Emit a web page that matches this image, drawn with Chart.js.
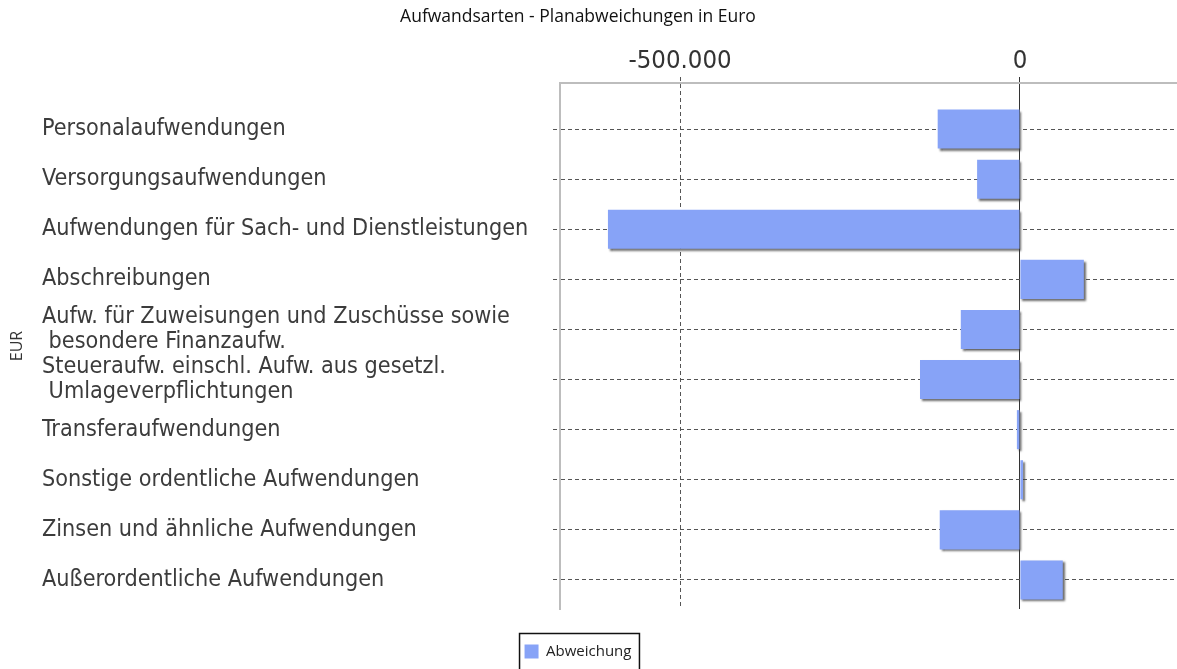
<!DOCTYPE html>
<html>
<head>
<meta charset="utf-8">
<script src="https://cdn.jsdelivr.net/npm/chart.js@4/dist/chart.umd.min.js"></script>
<style>
  html, body { margin: 0; padding: 0; background: #fff; }
  #wrap { width: 1177px; height: 669px; }
</style>
</head>
<body>
<div id="wrap"><canvas id="chart" width="1177" height="669"></canvas></div>
<script>
const categories = [
  ['Personalaufwendungen'],
  ['Versorgungsaufwendungen'],
  ['Aufwendungen für Sach- und Dienstleistungen'],
  ['Abschreibungen'],
  ['Aufw. für Zuweisungen und Zuschüsse sowie', ' besondere Finanzaufw.'],
  ['Steueraufw. einschl. Aufw. aus gesetzl.', ' Umlageverpflichtungen'],
  ['Transferaufwendungen'],
  ['Sonstige ordentliche Aufwendungen'],
  ['Zinsen und ähnliche Aufwendungen'],
  ['Außerordentliche Aufwendungen'],
];
const abweichung = [-121000, -63000, -606000, 94000, -87000, -147000, -4500, 4500, -118000, 63000];
const xTicks = [-500000, 0];
const xMin = -676500;
const xMax = 231000;

const labelFont = "'DejaVu Sans Condensed', 'DejaVu Sans', sans-serif";
const uiFont = "'Open Sans', sans-serif";
const fmt = (n) => new Intl.NumberFormat('de-DE').format(n);

// Schatten unter den Balken
const barShadow = {
  id: 'barShadow',
  beforeDatasetsDraw(chart) {
    const ctx = chart.ctx;
    ctx.save();
    ctx.shadowColor = 'rgba(60, 60, 60, 0.75)';
    ctx.shadowBlur = 2;
    ctx.shadowOffsetX = 2;
    ctx.shadowOffsetY = 2;
  },
  afterDatasetsDraw(chart) {
    chart.ctx.restore();
  },
};

// Rahmen um die Legende
const legendFrame = {
  id: 'legendFrame',
  afterDraw(chart) {
    const box = chart.legend && chart.legend.legendHitBoxes && chart.legend.legendHitBoxes[0];
    if (!box) return;
    const ctx = chart.ctx;
    const cy = box.top + box.height / 2;
    ctx.save();
    ctx.strokeStyle = '#111';
    ctx.lineWidth = 1.5;
    ctx.strokeRect(box.left - 5, cy - 18, box.width + 13, 40);
    ctx.restore();
  },
};

new Chart(document.getElementById('chart'), {
  type: 'bar',
  data: {
    datasets: [{
      label: 'Abweichung',
      data: abweichung.map((v, i) => ({ x: v, y: i })),
      backgroundColor: '#87a3f7',
      borderWidth: 0,
      barPercentage: 0.78,
      categoryPercentage: 1,
      xAxisID: 'x',
      yAxisID: 'y',
    }],
  },
  options: {
    indexAxis: 'y',
    responsive: false,
    animation: false,
    layout: { padding: { left: -21, right: 0, top: 0, bottom: 0 } },
    plugins: {
      title: {
        display: true,
        text: 'Aufwandsarten - Planabweichungen in Euro',
        color: '#111',
        font: { family: uiFont, size: 17.5, weight: 'normal' },
        padding: { top: 7, bottom: 7 },
      },
      legend: {
        position: 'bottom',
        labels: {
          color: '#222',
          font: { family: uiFont, size: 15 },
          boxWidth: 14,
          boxHeight: 14,
          padding: 35,
        },
      },
      tooltip: { enabled: false },
    },
    scales: {
      x: {
        type: 'linear',
        position: 'top',
        weight: 1,
        min: xMin,
        max: xMax,
        afterBuildTicks: (s) => { s.ticks = xTicks.map((v) => ({ value: v })); },
        afterFit: (s) => { s.height = 48; },
        ticks: {
          color: '#333',
          font: { family: labelFont, size: 25.5 },
          padding: 0,
          maxRotation: 0,
          callback: (v) => fmt(v),
        },
        grid: {
          color: (c) => (c.tick && c.tick.value === 0 ? 'rgba(0,0,0,0)' : '#555'),
          tickColor: (c) => (c.tick && c.tick.value === 0 ? 'rgba(0,0,0,0)' : '#555'),
          tickLength: 6,
          tickBorderDash: [4, 3],
        },
        border: { display: true, color: '#bdbdbd', width: 2, dash: [4, 3] },
      },
      x0: {
        type: 'linear',
        position: 'top',
        weight: 0,
        min: xMin,
        max: xMax,
        afterBuildTicks: (s) => { s.ticks = [{ value: 0 }]; },
        afterFit: (s) => { s.height = 0; },
        ticks: { display: false },
        grid: { color: '#333', tickColor: '#333', tickLength: 6, lineWidth: 1 },
        border: { display: false },
      },
      y: {
        type: 'linear',
        position: 'left',
        reverse: true,
        offset: false,
        min: -0.92,
        max: 9.58,
        afterBuildTicks: (s) => { s.ticks = categories.map((c, i) => ({ value: i })); },
        afterFit: (s) => { s.width = 518; },
        ticks: {
          crossAlign: 'far',
          color: '#3c3c3c',
          font: { family: labelFont, size: 23.2, lineHeight: 1.1 },
          callback: (v) => categories[v],
        },
        grid: {
          offset: false,
          color: '#555',
          tickColor: '#555',
          tickLength: 7,
          tickBorderDash: [4, 3],
        },
        border: { display: true, color: '#bdbdbd', width: 2, dash: [4, 3] },
      },
      yTitle: {
        type: 'linear',
        position: 'left',
        weight: 1,
        afterFit: (s) => { s.width = 63; },
        ticks: { display: false },
        grid: { display: false },
        border: { display: false },
        title: {
          display: true,
          text: 'EUR',
          color: '#333',
          font: { family: uiFont, size: 16 },
          padding: { top: 29, bottom: 0 },
        },
      },
    },
  },
  plugins: [barShadow, legendFrame],
});
</script>
</body>
</html>
